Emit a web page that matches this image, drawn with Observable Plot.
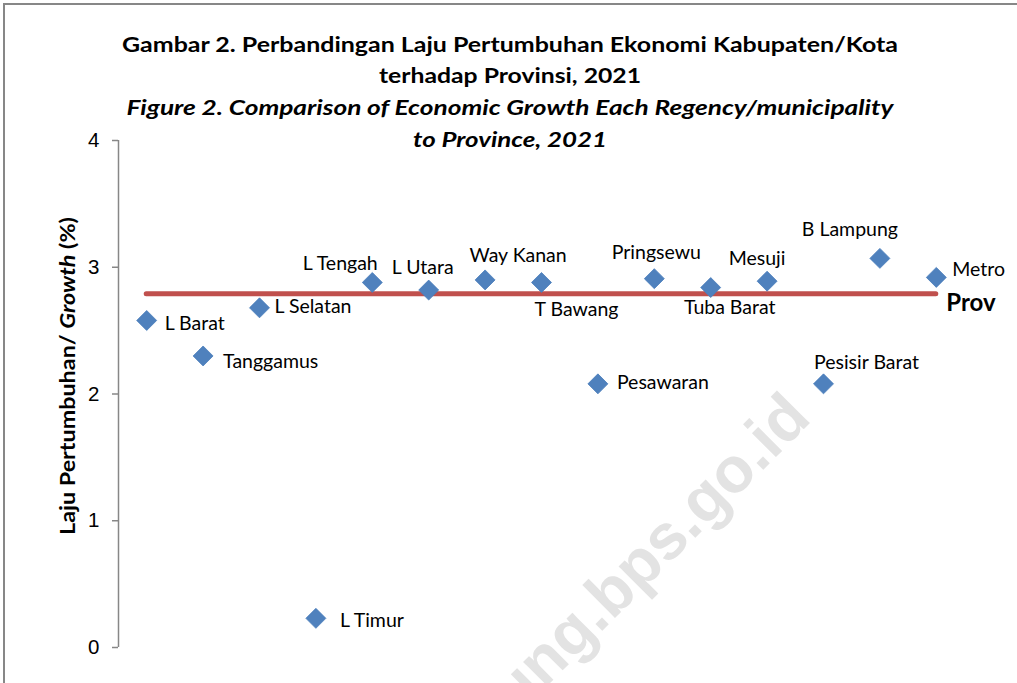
<!DOCTYPE html>
<html>
<head>
<meta charset="utf-8">
<script src="https://cdn.jsdelivr.net/npm/d3@7"></script>
<script src="https://cdn.jsdelivr.net/npm/@observablehq/plot@0.6"></script>
<style>
  html, body { margin: 0; padding: 0; overflow: hidden; background: #fff; }
  #chart { position: absolute; left: 0; top: 0; }
</style>
</head>
<body>
<div id="chart"></div>
<script>
const regions = ["L Barat", "Tanggamus", "L Selatan", "L Timur", "L Tengah", "L Utara", "Way Kanan", "T Bawang",
                 "Pesawaran", "Pringsewu", "Tuba Barat", "Mesuji", "Pesisir Barat", "B Lampung", "Metro"];
const growth = [2.58, 2.30, 2.68, 0.23, 2.88, 2.82, 2.90, 2.88, 2.08, 2.91, 2.84, 2.89, 2.08, 3.07, 2.92];
const provinceGrowth = 2.79;
const provinceLabel = "Prov";
const yTicks = [0, 1, 2, 3, 4];
const titleLines = [
  "Gambar 2. Perbandingan Laju Pertumbuhan Ekonomi Kabupaten/Kota",
  "terhadap Provinsi, 2021",
  "Figure 2. Comparison of Economic Growth Each Regency/municipality",
  "to Province, 2021"
];
const yTitleParts = ["Laju Pertumbuhan/ ", "Growth", " (%)"];
const watermark = "lampung.bps.go.id";

// layout only
const titleLayout = [ // [baselineY, width, italic]
  [52, 776, false], [83, 262, false], [115, 767, true], [147, 194, true]
];
const labelLayout = [ // [dx, dy, anchor]
  [18, 3, "start"], [20, 6, "start"], [15, -1, "start"], [24, 2, "start"],
  [-32, -19, "middle"], [-6, -22, "middle"], [33, -24, "middle"], [35, 27, "middle"],
  [19, -1, "start"], [2, -26, "middle"], [19, 20, "middle"], [-10, -22, "middle"],
  [43, -21, "middle"], [-30, -29, "middle"], [16, -8, "start"]
];

const data = regions.map((r, i) => ({i, region: r, value: growth[i]}));
const labelFont = "Lato, 'Open Sans', sans-serif";

const plot = Plot.plot({
  width: 1017,
  height: 683,
  marginLeft: 118,
  marginRight: 53,
  marginTop: 140,
  marginBottom: 36,
  style: {background: "#fff", overflow: "visible"},
  x: {domain: [-0.5, regions.length - 0.5], axis: null},
  y: {domain: [0, 4]},
  marks: [
    Plot.ruleX([-0.5], {y1: 0, y2: 4, stroke: "#878787", strokeWidth: 1.5}),
    Plot.axisY({ticks: yTicks, tickFormat: d3.format("d"), tickSize: 6, tickPadding: 13, stroke: "#878787", strokeWidth: 1.5,
                fontSize: 20.5, fontFamily: "'Liberation Sans', Arial, sans-serif", fill: "#000", label: null}),
    Plot.ruleY([provinceGrowth], {x1: 0, x2: regions.length - 1, stroke: "#C0504D", strokeWidth: 5, strokeLinecap: "round"}),
    Plot.text([provinceGrowth], {x: regions.length - 1, y: d => d, text: () => provinceLabel, dx: 10, dy: 9,
               textAnchor: "start", fontSize: 24, fontWeight: "bold", fontFamily: labelFont, fill: "#000"}),
    Plot.dot(data, {x: "i", y: "value", symbol: "diamond2", r: 9, fill: "#4F81BD", stroke: "#4A7EBB", strokeWidth: 0.8}),
    ...data.map((d, k) => Plot.text([d], {
      x: "i", y: "value", text: "region",
      dx: labelLayout[k][0], dy: labelLayout[k][1], textAnchor: labelLayout[k][2],
      fontSize: 19.5, fontFamily: labelFont, fill: "#000"
    }))
  ]
});

const svg = d3.select(plot);
// watermark (behind everything)
svg.insert("text", ":first-child")
  .attr("transform", "translate(813,420) rotate(-45)")
  .attr("text-anchor", "end")
  .attr("font-family", "'Liberation Sans', Arial, sans-serif")
  .attr("font-weight", "bold")
  .attr("font-size", 64)
  .attr("fill", "#e3e3e3")
  .text(watermark);
svg.insert("rect", ":first-child").attr("width", 1017).attr("height", 683).attr("fill", "#fff");
// frame border (top & left)
svg.append("path").attr("d", "M4,683 V4 H1017").attr("fill", "none").attr("stroke", "#878787").attr("stroke-width", 2);
// titles
titleLines.forEach((t, k) => {
  svg.append("text")
    .attr("x", 510).attr("y", titleLayout[k][0])
    .attr("text-anchor", "middle")
    .attr("textLength", titleLayout[k][1])
    .attr("lengthAdjust", "spacingAndGlyphs")
    .attr("font-family", labelFont)
    .attr("font-weight", "bold")
    .attr("font-style", titleLayout[k][2] ? "italic" : "normal")
    .attr("font-size", 20.5)
    .attr("fill", "#000")
    .text(t);
});
// y axis title
const yt = svg.append("text")
  .attr("transform", "translate(75,376) rotate(-90)")
  .attr("text-anchor", "middle")
  .attr("textLength", 318)
  .attr("lengthAdjust", "spacingAndGlyphs")
  .attr("font-family", labelFont)
  .attr("font-weight", "bold")
  .attr("font-size", 21)
  .attr("fill", "#000");
yTitleParts.forEach((p, k) => yt.append("tspan").attr("font-style", k === 1 ? "italic" : "normal").text(p));

document.getElementById("chart").appendChild(plot);
</script>
</body>
</html>
